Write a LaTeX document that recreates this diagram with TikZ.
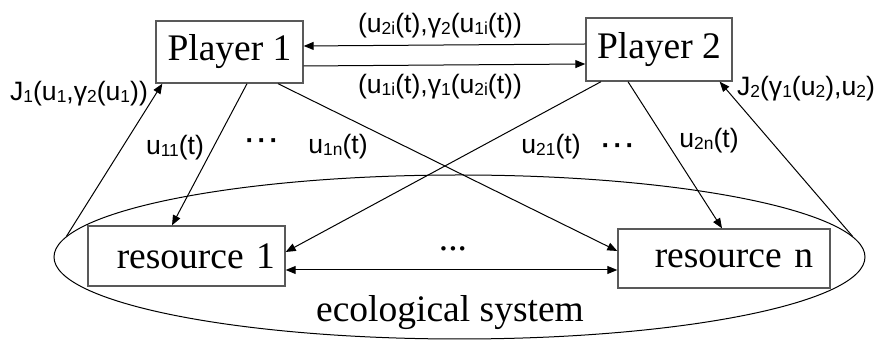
\documentclass[tikz,border=0pt]{standalone}
\usepackage{fontspec}
\setmainfont{Liberation Serif}
\setsansfont{Liberation Sans}
\usetikzlibrary{arrows.meta,shapes.geometric}

\newcommand{\lowsub}[1]{\raisebox{-0.6pt}{\fontsize{8.7}{9}\selectfont #1}}
\newcommand{\middots}{\textbf{·\hspace{1.6pt}·\hspace{1.6pt}·}}

\begin{document}
\begin{tikzpicture}[x=0.5pt, y=-0.5pt,
    box/.style={draw=black!65, line width=0.7pt, inner sep=0pt, font=\fontsize{18.75}{20}\selectfont},
    lbl/.style={font=\sffamily\fontsize{13.3}{15}\selectfont, inner sep=0pt},
    arr/.style={-{Triangle[length=5pt,width=4pt]}, line width=0.5pt},
    dbl/.style={{Triangle[length=5pt,width=4pt]}-{Triangle[length=5pt,width=4pt]}, line width=0.5pt}]
        \useasboundingbox (0,0) rectangle (875,341);

        % Draw nodes
        \node[ellipse, draw, line width=0.5pt, minimum width=405.5pt, minimum height=82pt, inner sep=0pt] (eco) at (459.5,257) {};
        \node[box, minimum width=73.5pt, minimum height=31pt] (p1) at (229.5,52) {Player 1};
        \node[box, minimum width=73pt, minimum height=31.5pt] (p2) at (659,49.5) {Player 2};
        \node[box, text width=88.5pt, inner xsep=5pt, align=right, minimum height=30pt] (r1) at (186.5,256) {resource 1};
        \node[box, text width=89pt, inner xsep=8.5pt, align=right, minimum height=29.5pt] (rn) at (724,258.5) {resource n};

        % Draw connections
        \draw[arr] ([yshift=2.75pt]p2.west) -- ([yshift=3pt]p1.east);
        \draw[arr] ([yshift=-7pt]p1.east) -- ([yshift=-7.25pt]p2.west);
        \draw[arr] (eco.177.2) -- ([xshift=3.5pt]p1.south west);
        \draw[arr] (eco.3) -- ([xshift=-6.5pt]p2.south east);
        \draw[arr] ([xshift=8.75pt]p1.south) -- ([xshift=-7.25pt]r1.north);
        \draw[arr] ([xshift=24.25pt]p1.south) -- ([yshift=3.75pt]rn.west);
        \draw[arr] ([xshift=-29pt]p2.south) -- ([yshift=2pt]r1.east);
        \draw[arr] ([xshift=-15.5pt]p2.south) -- ([xshift=-1pt]rn.north);
        \draw[dbl] ([yshift=-7pt]r1.east) -- ([yshift=-5.75pt]rn.west);

        % Labels
        \node[lbl] (l21) at (440,26) {(u\lowsub{2i}(t),γ\lowsub{2}(u\lowsub{1i}(t))};
        \node[lbl] (l12) at (440,87) {(u\lowsub{1i}(t),γ\lowsub{1}(u\lowsub{2i}(t))};
        \node[lbl] (lj1) at (79,94) {J\lowsub{1}(u\lowsub{1},γ\lowsub{2}(u\lowsub{1}))};
        \node[lbl] (lj2) at (806,89) {J\lowsub{2}(γ\lowsub{1}(u\lowsub{2}),u\lowsub{2})};
        \node[lbl] (lu11) at (175,148) {u\lowsub{11}(t)};
        \node[lbl] (ld1) at (262,144) {\middots};
        \node[lbl] (lu1n) at (338,147) {u\lowsub{1n}(t)};
        \node[lbl] (lu21) at (551,147) {u\lowsub{21}(t)};
        \node[lbl] (ld2) at (618,149) {\middots};
        \node[lbl] (lu2n) at (709,141) {u\lowsub{2n}(t)};
        \node[anchor=base, inner sep=0pt, font=\fontsize{18.75}{20}\selectfont] (ldr) at (453,251) {...};
        \node[anchor=base, inner sep=0pt, font=\fontsize{18.75}{20}\selectfont] (leco) at (450,322) {ecological system};
    \end{tikzpicture}
\end{document}
